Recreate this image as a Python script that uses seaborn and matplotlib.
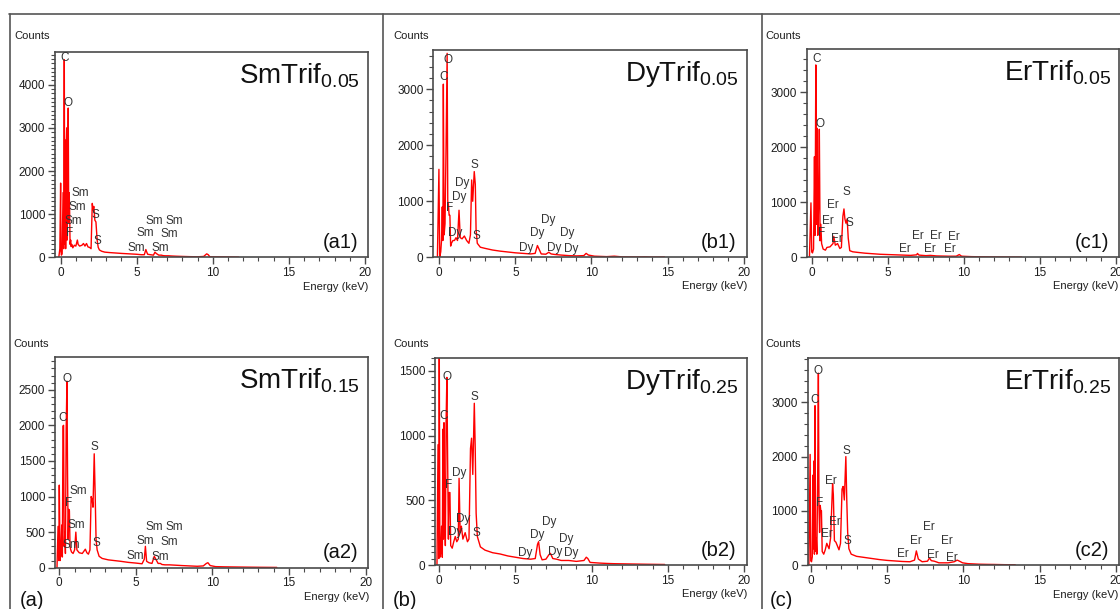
import matplotlib
matplotlib.use('Agg')
import matplotlib.pyplot as plt
import seaborn as sns
import pandas as pd
from matplotlib.ticker import MultipleLocator
from matplotlib.lines import Line2D

sns.set_style('white')
plt.rcParams['font.family'] = ['Liberation Sans', 'DejaVu Sans']
plt.rcParams['mathtext.fontset'] = 'custom'
plt.rcParams['mathtext.rm'] = 'Liberation Sans'

# ---------------- data (energy keV, counts) ----------------
a1_spectrum = [(-0.12, 0), (-0.05, 200), (0.0, 1720), (0.02, 150), (0.05, 50), (0.1, 80), (0.16, 1500),
               (0.2, 200), (0.24, 4580), (0.27, 300), (0.3, 2720), (0.33, 200), (0.36, 2400), (0.4, 3000),
               (0.43, 400), (0.46, 1450), (0.5, 3460), (0.53, 800), (0.56, 1500), (0.59, 1100), (0.62, 300),
               (0.66, 400), (0.69, 250), (0.73, 300), (0.8, 220), (0.9, 280), (1.0, 260), (1.1, 400),
               (1.15, 300), (1.25, 260), (1.4, 280), (1.5, 320), (1.6, 260), (1.7, 320), (1.8, 240),
               (1.9, 230), (2.0, 200), (2.08, 1250), (2.13, 1100), (2.18, 1180), (2.25, 860), (2.32, 820),
               (2.4, 400), (2.47, 230), (2.55, 170), (2.7, 140), (2.9, 120), (3.2, 110), (3.6, 100),
               (4.0, 90), (4.5, 80), (5.0, 70), (5.3, 60), (5.5, 60), (5.6, 180), (5.65, 130), (5.72, 70),
               (5.9, 60), (6.1, 50), (6.2, 120), (6.28, 90), (6.45, 50), (6.62, 50), (6.72, 40), (6.85, 35),
               (7.1, 35), (7.3, 30), (7.6, 25), (8.0, 20), (8.5, 15), (9.0, 12), (9.4, 20), (9.6, 80),
               (9.7, 60), (9.8, 15), (10.0, 10), (10.4, 10), (10.9, 8), (11.3, 6), (11.7, 4)]

b1_spectrum = [(-0.12, 0), (-0.02, 1570), (0.03, 0), (0.1, 100), (0.15, 300), (0.2, 900), (0.24, 300),
               (0.27, 3090), (0.32, 400), (0.38, 600), (0.45, 2000), (0.52, 3640), (0.56, 1000), (0.6, 950),
               (0.65, 750), (0.7, 750), (0.75, 200), (0.8, 250), (0.9, 300), (1.0, 300), (1.1, 350),
               (1.2, 300), (1.3, 840), (1.38, 350), (1.5, 330), (1.65, 380), (1.8, 300), (1.95, 250),
               (2.05, 400), (2.13, 1380), (2.2, 1000), (2.3, 1530), (2.37, 1300), (2.42, 500), (2.5, 250),
               (2.7, 180), (3.0, 160), (3.5, 130), (4.0, 110), (4.5, 95), (5.0, 80), (5.5, 70), (6.0, 60),
               (6.3, 70), (6.45, 210), (6.55, 150), (6.7, 60), (7.0, 55), (7.2, 90), (7.35, 60), (7.6, 50),
               (8.0, 40), (8.5, 30), (9.0, 25), (9.5, 30), (9.65, 70), (9.8, 40), (10.2, 20), (11.0, 12),
               (11.5, 20), (12.0, 8), (13.0, 5), (13.5, 8), (14.0, 3), (14.8, 5)]

c1_spectrum = [(-0.15, 0), (-0.05, 990), (0.0, 100), (0.05, 80), (0.12, 150), (0.18, 1830), (0.22, 400),
               (0.27, 3500), (0.31, 600), (0.35, 2350), (0.4, 400), (0.45, 950), (0.5, 2330), (0.55, 300),
               (0.6, 600), (0.65, 250), (0.75, 150), (0.9, 130), (1.0, 180), (1.2, 190), (1.4, 250),
               (1.45, 380), (1.55, 220), (1.7, 250), (1.85, 160), (1.95, 180), (2.05, 750), (2.12, 880),
               (2.18, 700), (2.25, 620), (2.33, 700), (2.4, 350), (2.5, 120), (2.7, 100), (3.0, 90),
               (3.5, 75), (4.0, 65), (4.5, 55), (5.0, 50), (5.5, 45), (6.0, 40), (6.5, 35), (6.9, 45),
               (6.95, 70), (7.05, 40), (7.5, 30), (7.8, 35), (8.2, 25), (9.0, 20), (9.5, 20), (9.7, 50),
               (9.85, 20), (10.5, 12), (11.0, 10), (11.5, 8), (12.0, 6), (12.5, 5), (13.0, 4), (13.8, 3)]

a2_spectrum = [(-0.15, 0), (-0.08, 580), (-0.03, 100), (0.0, 1160), (0.05, 100), (0.1, 200), (0.16, 600),
               (0.2, 150), (0.24, 1990), (0.28, 2000), (0.32, 300), (0.36, 500), (0.4, 200), (0.45, 1950),
               (0.5, 2620), (0.54, 1300), (0.58, 400), (0.62, 820), (0.66, 800), (0.7, 300), (0.75, 250),
               (0.8, 220), (0.9, 200), (1.0, 250), (1.08, 500), (1.15, 250), (1.3, 210), (1.5, 200),
               (1.6, 230), (1.7, 260), (1.8, 210), (1.9, 190), (2.0, 250), (2.08, 1000), (2.15, 950),
               (2.2, 850), (2.28, 1600), (2.34, 1050), (2.4, 400), (2.47, 250), (2.6, 160), (2.8, 130),
               (3.2, 110), (3.6, 100), (4.0, 90), (4.5, 75), (5.0, 65), (5.4, 55), (5.55, 120), (5.62, 300),
               (5.7, 90), (5.85, 70), (6.05, 60), (6.2, 160), (6.3, 120), (6.45, 60), (6.6, 60), (6.7, 45),
               (6.9, 40), (7.2, 40), (7.6, 35), (8.0, 30), (8.5, 25), (9.0, 20), (9.4, 25), (9.6, 60),
               (9.7, 70), (9.85, 30), (10.2, 15), (10.8, 12), (11.5, 10), (12.2, 8), (13.0, 6), (14.2, 4)]

b2_spectrum = [(-0.15, 0), (-0.08, 930), (-0.03, 50), (0.0, 1650), (0.04, 60), (0.1, 100), (0.15, 300),
               (0.2, 60), (0.24, 1050), (0.27, 200), (0.31, 1100), (0.35, 400), (0.4, 150), (0.45, 1120),
               (0.5, 1450), (0.55, 800), (0.6, 200), (0.64, 560), (0.7, 560), (0.75, 150), (0.85, 130),
               (0.95, 180), (1.05, 220), (1.15, 180), (1.25, 200), (1.3, 670), (1.37, 250), (1.45, 300),
               (1.55, 200), (1.7, 250), (1.85, 180), (1.95, 200), (2.05, 900), (2.12, 980), (2.2, 700),
               (2.3, 1250), (2.36, 900), (2.42, 400), (2.5, 220), (2.7, 140), (3.0, 115), (3.5, 95),
               (4.0, 85), (4.5, 70), (5.0, 60), (5.5, 50), (6.0, 45), (6.3, 50), (6.45, 160), (6.52, 180),
               (6.62, 80), (6.75, 40), (7.0, 45), (7.2, 80), (7.3, 90), (7.45, 50), (7.7, 45), (8.0, 35),
               (8.5, 35), (9.0, 28), (9.5, 35), (9.65, 60), (9.75, 50), (9.9, 20), (10.5, 15), (11.0, 12),
               (11.5, 10), (12.5, 8), (13.5, 6), (14.8, 4)]

c2_spectrum = [(-0.12, 0), (-0.04, 2040), (0.0, 80), (0.05, 60), (0.1, 150), (0.15, 1660), (0.18, 300),
               (0.21, 1920), (0.24, 200), (0.28, 2940), (0.32, 250), (0.36, 500), (0.4, 200), (0.45, 1500),
               (0.5, 3540), (0.54, 1100), (0.58, 600), (0.62, 1100), (0.66, 1000), (0.7, 1000), (0.75, 250),
               (0.85, 200), (0.95, 280), (1.05, 400), (1.12, 350), (1.2, 300), (1.3, 500), (1.43, 1500),
               (1.48, 1300), (1.55, 450), (1.65, 420), (1.75, 350), (1.85, 280), (1.95, 400), (2.05, 1400),
               (2.12, 1450), (2.2, 1200), (2.3, 2000), (2.36, 1200), (2.42, 600), (2.5, 300), (2.65, 200),
               (3.0, 160), (3.5, 140), (4.0, 120), (4.5, 100), (5.0, 85), (5.5, 75), (6.0, 65), (6.5, 60),
               (6.8, 90), (6.92, 260), (7.05, 110), (7.3, 60), (7.65, 70), (7.78, 130), (7.9, 80), (8.1, 70),
               (8.4, 40), (9.0, 40), (9.4, 60), (9.6, 90), (9.75, 70), (9.95, 40), (10.3, 25), (11.0, 15),
               (11.5, 12), (12.0, 10), (12.7, 6), (13.4, 4)]

# element peak labels: (text, energy, counts)
a1_labels = [('C', 0.28, 4630), ('O', 0.5, 3580), ('Sm', 1.27, 1490), ('Sm', 1.1, 1170), ('Sm', 0.83, 840),
             ('F', 0.61, 560), ('S', 2.26, 980), ('S', 2.41, 385), ('Sm', 4.95, 215), ('Sm', 5.57, 560),
             ('Sm', 6.14, 850), ('Sm', 7.45, 850), ('Sm', 7.15, 540), ('Sm', 6.58, 215)]
b1_labels = [('O', 0.55, 3530), ('C', 0.26, 3210), ('S', 2.3, 1645), ('Dy', 1.54, 1320), ('Dy', 1.28, 1080),
             ('F', 0.66, 880), ('Dy', 1.03, 440), ('S', 2.41, 380), ('Dy', 5.68, 160), ('Dy', 6.45, 430),
             ('Dy', 7.17, 665), ('Dy', 7.57, 170), ('Dy', 8.38, 430), ('Dy', 8.64, 140)]
c1_labels = [('C', 0.33, 3610), ('O', 0.54, 2430), ('S', 2.26, 1180), ('Er', 1.42, 950), ('Er', 1.09, 660),
             ('F', 0.63, 435), ('Er', 1.68, 330), ('S', 2.47, 620), ('Er', 6.12, 145), ('Er', 6.95, 390),
             ('Er', 7.78, 145), ('Er', 8.18, 390), ('Er', 9.05, 145), ('Er', 9.36, 375)]
a2_labels = [('O', 0.48, 2650), ('C', 0.22, 2100), ('S', 2.29, 1690), ('Sm', 1.24, 1080), ('F', 0.63, 905),
             ('Sm', 1.13, 600), ('Sm', 0.8, 320), ('S', 2.44, 340), ('Sm', 4.94, 165), ('Sm', 5.61, 375),
             ('Sm', 6.18, 575), ('Sm', 7.48, 565), ('Sm', 7.18, 355), ('Sm', 6.62, 155)]
b2_labels = [('O', 0.53, 1456), ('C', 0.26, 1152), ('S', 2.3, 1297), ('Dy', 1.29, 709), ('F', 0.64, 619),
             ('Dy', 1.54, 356), ('Dy', 1.03, 253), ('S', 2.45, 245), ('Dy', 5.67, 95), ('Dy', 6.45, 232),
             ('Dy', 7.2, 335), ('Dy', 7.6, 103), ('Dy', 8.36, 199), ('Dy', 8.65, 90)]
c2_labels = [('O', 0.5, 3585), ('C', 0.28, 3044), ('S', 2.31, 2110), ('Er', 1.33, 1555), ('F', 0.61, 1150),
             ('Er', 1.61, 800), ('Er', 1.05, 566), ('S', 2.39, 449), ('Er', 6.05, 203), ('Er', 6.86, 449),
             ('Er', 7.73, 707), ('Er', 8.01, 179), ('Er', 8.93, 437), ('Er', 9.25, 135)]

sample_names = ['SmTrif', 'DyTrif', 'ErTrif', 'SmTrif', 'DyTrif', 'ErTrif']
sample_fractions = ['0.05', '0.05', '0.05', '0.15', '0.25', '0.25']
panel_tags = ['(a1)', '(b1)', '(c1)', '(a2)', '(b2)', '(c2)']
column_letters = ['(a)', '(b)', '(c)']
x_ticks = [0, 5, 10, 15, 20]

spectra = [a1_spectrum, b1_spectrum, c1_spectrum, a2_spectrum, b2_spectrum, c2_spectrum]
labels = [a1_labels, b1_labels, c1_labels, a2_labels, b2_labels, c2_labels]

# ---------------- layout ----------------
W, H = 1120, 609
fig = plt.figure(figsize=(W / 100, H / 100), dpi=100)
fig.patch.set_facecolor('white')

# pixel boxes: left, top, right, bottom
boxes = [(55, 52, 368, 257.3), (433.3, 50, 746.7, 257.3), (806.7, 49, 1119, 257.3),
         (55, 357, 368.3, 567.7), (435, 358, 746.7, 565), (807.7, 358, 1119, 565)]
xlims = [(-0.37, 20.2), (-0.39, 20.2), (-0.33, 20.2), (-0.28, 20.17), (-0.28, 20.18), (-0.2, 20.2)]
ylims = [4760, 3700, 3790, 2960, 1600, 3820]
ymajor = [1000, 1000, 1000, 500, 500, 1000]
yminor = [100, 200, 200, 100, 50, 200]
counts_pos = [(14, 36), (393, 36), (765, 36), (13, 344), (393, 344), (765, 344)]
energy_pos = [(368, 287), (747, 286), (1118, 286), (369, 597), (747, 594), (1118, 595)]

dark = '#1e1e1e'
spine_c = '#4a4a4a'

for i in range(6):
    l, t, r, b = boxes[i]
    ax = fig.add_axes([l / W, 1 - b / H, (r - l) / W, (b - t) / H])
    df = pd.DataFrame(spectra[i], columns=['Energy', 'Counts'])
    sns.lineplot(data=df, x='Energy', y='Counts', ax=ax, color='#ff0000', lw=1.0,
                 estimator=None, sort=False)
    ax.set_xlim(*xlims[i])
    ax.set_ylim(0, ylims[i])
    ax.set_xlabel('')
    ax.set_ylabel('')
    ax.set_xticks(x_ticks)
    ax.xaxis.set_minor_locator(MultipleLocator(1))
    ax.yaxis.set_major_locator(MultipleLocator(ymajor[i]))
    ax.yaxis.set_minor_locator(MultipleLocator(yminor[i]))
    ax.tick_params(which='both', direction='out', left=True, bottom=True, colors=spine_c,
                   labelcolor=dark, labelsize=8.5, pad=2)
    ax.tick_params(which='major', length=5, width=1.0)
    ax.tick_params(which='minor', length=3, width=0.8)
    for s in ax.spines.values():
        s.set_visible(True)
        s.set_color(spine_c)
        s.set_linewidth(1.2)
    # title
    ax.text(0.974, 0.85, sample_names[i] + r'$_{\mathregular{' + sample_fractions[i] + '}}$',
            transform=ax.transAxes, ha='right', va='baseline', fontsize=20, color='#111111')
    ax.text(0.968, 0.07, panel_tags[i], transform=ax.transAxes, ha='right', va='center',
            fontsize=14.5, color='#111111')
    for txt, e, c in labels[i]:
        ax.text(e, c, txt, ha='center', va='center', fontsize=8.5, color='#333333', clip_on=False)
    cx, cy = counts_pos[i]
    fig.text(cx / W, 1 - cy / H, 'Counts', ha='left', va='center', fontsize=8, color=dark)
    ex, ey = energy_pos[i]
    fig.text(ex / W, 1 - ey / H, 'Energy (keV)', ha='right', va='center', fontsize=8, color=dark)

# column letters
for lx, letter in zip([20, 393, 770], column_letters):
    fig.text(lx / W, 1 - 600 / H, letter, ha='left', va='center', fontsize=14.5, color='#111111')

# frame lines
frame_c = '#555555'
def fline(x1, y1, x2, y2):
    fig.add_artist(Line2D([x1 / W, x2 / W], [1 - y1 / H, 1 - y2 / H], transform=fig.transFigure,
                          color=frame_c, lw=1.2))
fline(9, 13.5, 1120, 13.5)
fline(9.5, 13.5, 9.5, 609)
fline(382.5, 13.5, 382.5, 609)
fline(761.5, 13.5, 761.5, 609)

fig.savefig('out.png', dpi=100, facecolor='white')
